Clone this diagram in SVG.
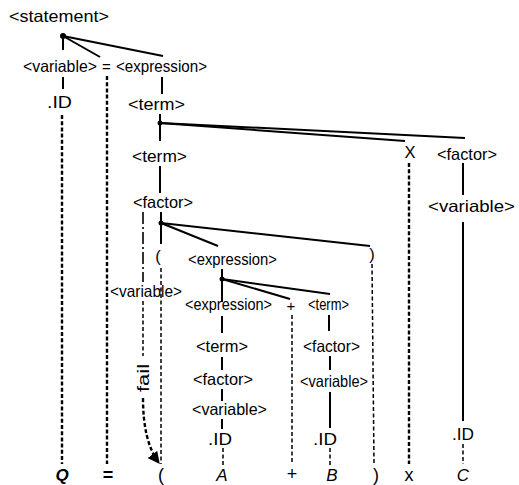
<svg xmlns="http://www.w3.org/2000/svg" width="519" height="485" viewBox="0 0 519 485">
  <style>
    .lbl { font-family: "Liberation Sans", Arial, sans-serif; font-size: 16.5px; fill: #000; }
    .tok { font-family: "Liberation Sans", Arial, sans-serif; font-size: 17px; fill: #000; font-style: italic; }
    .sym { font-family: "Liberation Sans", Arial, sans-serif; font-size: 15px; fill: #000; }
    .inp { font-family: "Liberation Sans", Arial, sans-serif; font-size: 18px; fill: #000; }
    .edge { stroke: #000; stroke-width: 2; fill: none; stroke-linecap: butt; }
    .trace { stroke: #000; stroke-width: 2.4; fill: none; stroke-dasharray: 4 2.2; }
    .trace-light { stroke: #000; stroke-width: 1.5; fill: none; stroke-dasharray: 4 2.5; }
    .dashdot { stroke: #000; stroke-width: 1.6; fill: none; stroke-dasharray: 12 3 2 3; }
    .dot { fill: #000; }
  </style>
  <defs>
    <marker id="arrow" viewBox="0 0 10 10" refX="9" refY="5" markerWidth="5" markerHeight="5" orient="auto">
      <path d="M0,0 L10,5 L0,10 z" fill="#000"/>
    </marker>
  </defs>

  <!-- tree edges and trace lines -->
  <g id="connectors">
    <!-- statement -->
    <line class="edge" x1="63" y1="36" x2="63" y2="50"/>
    <line class="edge" x1="63" y1="36" x2="100" y2="57"/>
    <line class="edge" x1="63" y1="36" x2="163" y2="56"/>
    <line class="edge" x1="63" y1="77" x2="63" y2="89"/>
    <line class="edge" x1="162" y1="77" x2="162" y2="94"/>
    <!-- term -->
    <line class="edge" x1="160" y1="114" x2="160" y2="141"/>
    <line class="edge" x1="160" y1="123" x2="405" y2="141"/>
    <line class="edge" x1="160" y1="123" x2="465" y2="138"/>
    <line class="edge" x1="160" y1="166" x2="160" y2="193"/>
    <!-- factor -->
    <line class="edge" x1="161" y1="212" x2="161" y2="244"/>
    <line class="edge" x1="161" y1="223" x2="218" y2="246"/>
    <line class="edge" x1="161" y1="223" x2="370" y2="246"/>
    <!-- inner expression -->
    <line class="edge" x1="222" y1="269" x2="222" y2="302"/>
    <line class="edge" x1="222" y1="279" x2="290" y2="299"/>
    <line class="edge" x1="222" y1="279" x2="330" y2="294"/>
    <line class="edge" x1="222" y1="316" x2="222" y2="333"/>
    <line class="edge" x1="329" y1="315" x2="329" y2="331"/>
    <line class="edge" x1="222" y1="357" x2="222" y2="370"/>
    <line class="edge" x1="330" y1="356" x2="330" y2="370"/>
    <line class="edge" x1="222" y1="389" x2="222" y2="401"/>
    <line class="edge" x1="330" y1="392" x2="330" y2="428"/>
    <line class="edge" x1="222" y1="419" x2="222" y2="429"/>
    <!-- right factor -->
    <line class="edge" x1="463" y1="163" x2="463" y2="195"/>
    <line class="edge" x1="463" y1="222" x2="463" y2="421"/>

    <!-- terminal traces -->
    <line class="trace" x1="62" y1="115" x2="62" y2="464"/>
    <line class="trace" x1="107" y1="76" x2="107" y2="464"/>
    <line class="trace" x1="409" y1="163" x2="409" y2="464"/>
    <line class="trace-light" x1="161" y1="268" x2="161" y2="464"/>
    <line class="trace-light" x1="292" y1="315" x2="292" y2="464"/>
    <line class="trace-light" x1="372" y1="264" x2="374" y2="464"/>
    <line class="trace-light" x1="223" y1="448" x2="223" y2="467"/>
    <line class="trace-light" x1="330" y1="448" x2="330" y2="467"/>
    <line class="trace-light" x1="463" y1="444" x2="463" y2="464"/>

    <!-- failed alternative -->
    <line class="dashdot" x1="143" y1="212" x2="143" y2="282"/>
    <line class="trace-light" x1="143" y1="301" x2="143" y2="356"/>
    <path class="trace" d="M143,398 Q143,442 159,463" marker-end="url(#arrow)"/>

    <!-- branch points -->
    <circle class="dot" cx="63" cy="36" r="3"/>
    <circle class="dot" cx="160" cy="123" r="2.5"/>
    <circle class="dot" cx="161" cy="223" r="2.5"/>
    <circle class="dot" cx="222" cy="279" r="2.5"/>
  </g>

  <g id="statement"><text class="lbl" x="9" y="22" textLength="100" lengthAdjust="spacingAndGlyphs">&lt;statement&gt;</text></g>
  <g id="variable-1"><text class="lbl" x="23" y="72" textLength="74" lengthAdjust="spacingAndGlyphs">&lt;variable&gt;</text></g>
  <g id="assign"><text class="sym" x="106.5" y="72" text-anchor="middle">=</text></g>
  <g id="expression-1"><text class="lbl" x="116" y="72" textLength="91" lengthAdjust="spacingAndGlyphs">&lt;expression&gt;</text></g>
  <g id="id-1"><text class="lbl" x="47" y="108" textLength="25" lengthAdjust="spacingAndGlyphs">.ID</text></g>
  <g id="term-1"><text class="lbl" x="128" y="110" textLength="57" lengthAdjust="spacingAndGlyphs">&lt;term&gt;</text></g>
  <g id="term-2"><text class="lbl" x="132" y="162" textLength="55" lengthAdjust="spacingAndGlyphs">&lt;term&gt;</text></g>
  <g id="times"><text class="lbl" x="410" y="158" text-anchor="middle">X</text></g>
  <g id="factor-1"><text class="lbl" x="437" y="160" textLength="60" lengthAdjust="spacingAndGlyphs">&lt;factor&gt;</text></g>
  <g id="factor-2"><text class="lbl" x="133" y="208" textLength="60" lengthAdjust="spacingAndGlyphs">&lt;factor&gt;</text></g>
  <g id="variable-2"><text class="lbl" x="428" y="212" textLength="87" lengthAdjust="spacingAndGlyphs">&lt;variable&gt;</text></g>
  <g id="lparen"><text class="lbl" x="158" y="262" text-anchor="middle">(</text></g>
  <g id="expression-2"><text class="lbl" x="188" y="265" textLength="89" lengthAdjust="spacingAndGlyphs">&lt;expression&gt;</text></g>
  <g id="rparen"><text class="lbl" x="372" y="260" text-anchor="middle">)</text></g>
  <g id="variable-3"><text class="lbl" x="110" y="297" textLength="72" lengthAdjust="spacingAndGlyphs">&lt;variable&gt;</text></g>
  <g id="expression-3"><text class="lbl" x="185" y="310" textLength="87" lengthAdjust="spacingAndGlyphs">&lt;expression&gt;</text></g>
  <g id="plus"><text class="sym" x="291" y="311" text-anchor="middle">+</text></g>
  <g id="term-3"><text class="lbl" x="308" y="310" textLength="41" lengthAdjust="spacingAndGlyphs">&lt;term&gt;</text></g>
  <g id="term-4"><text class="lbl" x="196" y="352" textLength="52" lengthAdjust="spacingAndGlyphs">&lt;term&gt;</text></g>
  <g id="factor-3"><text class="lbl" x="303" y="352" textLength="57" lengthAdjust="spacingAndGlyphs">&lt;factor&gt;</text></g>
  <g id="factor-4"><text class="lbl" x="193" y="385" textLength="60" lengthAdjust="spacingAndGlyphs">&lt;factor&gt;</text></g>
  <g id="variable-4"><text class="lbl" x="300" y="387" textLength="68" lengthAdjust="spacingAndGlyphs">&lt;variable&gt;</text></g>
  <g id="variable-5"><text class="lbl" x="192" y="415" textLength="75" lengthAdjust="spacingAndGlyphs">&lt;variable&gt;</text></g>
  <g id="id-2"><text class="lbl" x="208" y="445" textLength="24" lengthAdjust="spacingAndGlyphs">.ID</text></g>
  <g id="id-3"><text class="lbl" x="313" y="445" textLength="24" lengthAdjust="spacingAndGlyphs">.ID</text></g>
  <g id="id-4"><text class="lbl" x="452" y="440" textLength="22" lengthAdjust="spacingAndGlyphs">.ID</text></g>
  <g id="fail"><text class="lbl" transform="translate(149,378) rotate(-90)" text-anchor="middle" textLength="28" lengthAdjust="spacingAndGlyphs">fail</text></g>

  <!-- input string -->
  <g id="input">
    <text class="tok" x="62" y="481" text-anchor="middle" font-weight="bold">Q</text>
    <text class="inp" x="108" y="481" text-anchor="middle" font-weight="bold">=</text>
    <text class="inp" x="161" y="481" text-anchor="middle">(</text>
    <text class="tok" x="222" y="481" text-anchor="middle">A</text>
    <text class="inp" x="292" y="480" text-anchor="middle">+</text>
    <text class="tok" x="332" y="481" text-anchor="middle">B</text>
    <text class="inp" x="376" y="481" text-anchor="middle">)</text>
    <text class="inp" x="409" y="481" text-anchor="middle">x</text>
    <text class="tok" x="463" y="481" text-anchor="middle">C</text>
  </g>
</svg>
